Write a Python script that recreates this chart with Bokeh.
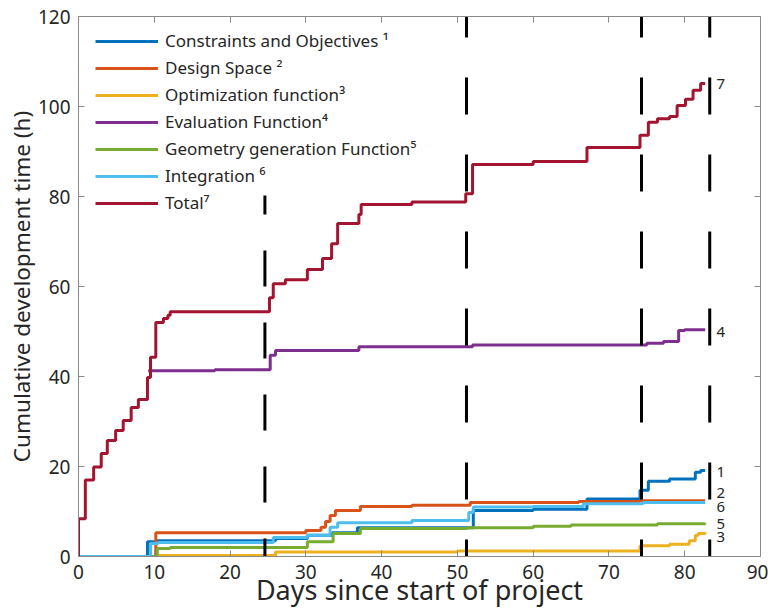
from bokeh.plotting import figure
from bokeh.models import Legend, LegendItem, LinearAxis, FixedTicker, Range1d
from bokeh.embed import file_html
from bokeh.resources import INLINE
from bokeh.core.properties import value

FONT = "Noto Sans"

# ---------------- data (step breakpoints: day, cumulative hours) ----------------
con_d = [0, 9.1, 10.2, 26.0, 30.2, 33.5, 36.8, 52.1, 60.0, 67.1, 74.1, 75.2, 78.0, 81.4, 82.1, 82.7]
con_h = [0, 3.3, 3.5, 4.0, 4.7, 5.3, 6.4, 10.2, 10.5, 12.8, 14.7, 16.7, 17.2, 18.7, 19.1, 19.1]

des_d = [0, 10.2, 30.0, 32.0, 32.6, 33.2, 33.9, 37.2, 44.0, 51.7, 66.0, 74.0, 82.7]
des_h = [0, 5.3, 5.8, 6.5, 7.8, 9.1, 10.2, 11.1, 11.4, 12.0, 12.2, 12.4, 12.4]

opt_d = [0, 10.4, 26.0, 50.0, 74.1, 78.0, 80.6, 81.4, 81.8, 82.7]
opt_h = [0, 0.2, 1.0, 1.2, 2.4, 2.7, 3.5, 4.7, 5.1, 5.4]

eva_d = [9.2, 18.0, 25.3, 26.0, 37.0, 52.0, 75.0, 77.2, 79.2, 80.0, 82.7]
eva_h = [41.3, 41.5, 44.7, 45.8, 46.6, 47.0, 47.4, 47.8, 50.2, 50.4, 50.4]

geo_d = [0, 10.4, 12.1, 30.2, 33.6, 37.2, 51.3, 60.0, 65.0, 76.4, 82.7]
geo_h = [0, 1.8, 2.0, 3.3, 5.1, 6.2, 6.4, 6.7, 7.0, 7.3, 7.4]

int_d = [0, 9.5, 10.5, 25.7, 30.2, 33.2, 34.2, 44.0, 51.5, 52.1, 60.0, 66.6, 74.5, 82.7]
int_h = [0, 2.9, 3.1, 4.2, 4.7, 6.5, 7.5, 8.0, 9.8, 11.0, 11.1, 11.7, 12.0, 12.0]

tot_d = [0, 0, 0.9, 2.0, 3.0, 3.8, 4.9, 5.9, 6.95, 7.9, 9.1, 9.5, 10.2, 11.2, 11.8, 12.1,
         25.2, 25.7, 27.3, 30.2, 32.2, 33.4, 34.2, 37.0, 37.3, 44.0, 51.1, 52.0, 60.0,
         67.1, 74.1, 75.2, 76.4, 78.0, 79.0, 80.1, 81.1, 82.1, 82.7]
tot_h = [0, 8.4, 17.0, 19.9, 22.9, 25.8, 28.0, 30.2, 33.1, 34.9, 39.8, 44.3, 52.0, 52.9, 53.6, 54.4,
         57.5, 60.6, 61.5, 63.8, 66.2, 69.5, 74.0, 76.0, 78.2, 78.8, 80.6, 87.1, 87.8,
         90.9, 93.6, 96.5, 97.3, 97.8, 100.2, 101.6, 103.6, 105.1, 105.1]

names = ["Constraints and Objectives \u00b9", "Design Space \u00b2", "Optimization function\u00b3",
         "Evaluation Function\u2074", "Geometry generation Function\u2075", "Integration \u2076",
         "Total\u2077"]
colors = ["#0072BD", "#D95319", "#EDB120", "#7E2F8E", "#77AC30", "#4DBEEE", "#A2142F"]
series = [(con_d, con_h), (des_d, des_h), (opt_d, opt_h), (eva_d, eva_h),
          (geo_d, geo_h), (int_d, int_h), (tot_d, tot_h)]

# milestone lines (day, top hour)
mile_d = [24.6, 51.2, 74.3, 83.3]
mile_top = [80.2, 120, 120, 120]

# end labels
end_text = ["1", "2", "3", "4", "5", "6", "7"]
end_y = [18.7, 14.2, 4.4, 50.0, 7.3, 10.9, 105.1]
end_x = 84.2

x_ticks = [0, 10, 20, 30, 40, 50, 60, 70, 80, 90]
y_ticks = [0, 20, 40, 60, 80, 100, 120]

x_title = "Days since start of project"
y_title = "Cumulative development time (h)"

# ---------------- figure ----------------
W, H = 768, 610
ML, MR, MT, MB = 78, 8, 16, 54
p = figure(width=W, height=H, x_range=Range1d(0, 90), y_range=Range1d(0, 120),
           output_backend="svg", toolbar_location=None,
           min_border_left=ML, min_border_right=MR, min_border_top=MT, min_border_bottom=MB)
p.grid.visible = False
p.outline_line_color = None
p.background_fill_color = "white"

AX = "#8a8a8a"
TXT = "#262626"

def style_axis(ax, ticks, labels=True):
    ax.ticker = FixedTicker(ticks=ticks)
    ax.axis_line_color = AX
    ax.axis_line_width = 1
    ax.major_tick_line_color = AX
    ax.major_tick_in = 6
    ax.major_tick_out = 0
    ax.minor_tick_line_color = None
    if labels:
        ax.major_label_text_font = FONT
        ax.major_label_text_font_size = "19px"
        ax.major_label_text_color = TXT
    else:
        ax.major_label_text_font_size = "0px"
        ax.major_label_overrides = {t: "" for t in ticks}
        ax.major_label_standoff = 0

style_axis(p.xaxis[0], x_ticks)
style_axis(p.yaxis[0], y_ticks)
p.xaxis[0].major_label_standoff = 8
p.yaxis[0].major_label_standoff = 8
p.xaxis[0].axis_label = x_title
p.yaxis[0].axis_label = y_title
for ax in (p.xaxis[0], p.yaxis[0]):
    ax.axis_label_text_font = FONT
    ax.axis_label_text_font_style = "normal"
    ax.axis_label_text_color = TXT
p.xaxis[0].axis_label_text_font_size = "27px"
p.yaxis[0].axis_label_text_font_size = "22.5px"
p.xaxis[0].axis_label_standoff = -11
p.yaxis[0].axis_label_standoff = -2

top_ax = LinearAxis()
style_axis(top_ax, x_ticks, labels=False)
p.add_layout(top_ax, "above")
right_ax = LinearAxis()
style_axis(right_ax, y_ticks, labels=False)
p.add_layout(right_ax, "right")

renderers = []
for (d, h), c in zip(series, colors):
    r = p.step(x=d, y=h, mode="after", line_color=c, line_width=3)
    renderers.append(r)

# milestone dashed lines
for i, (d, top) in enumerate(zip(mile_d, mile_top)):
    if i == 0:
        p.line(x=[d, d], y=[top, 0], line_color="black", line_width=3,
               line_dash="36 36", line_dash_offset=17)
    else:
        p.line(x=[d, d], y=[top, 0], line_color="black", line_width=3,
               line_dash="37 40", line_dash_offset=16)

p.text(x=[end_x] * len(end_text), y=end_y, text=end_text, text_font=value(FONT),
       text_font_size="15px", text_color=TXT, text_baseline="middle", text_align="left")

legend = Legend(items=[LegendItem(label=n, renderers=[r]) for n, r in zip(names, renderers)],
                location=(17, 342))
legend.border_line_color = None
legend.background_fill_alpha = 0
legend.label_text_font = FONT
legend.label_text_font_size = "17px"
legend.label_text_color = TXT
legend.glyph_width = 63
legend.glyph_height = 20
legend.label_height = 20
legend.spacing = 4
legend.label_standoff = 7
legend.margin = 0
legend.padding = 0
p.add_layout(legend)

open("out.html", "w").write(file_html(p, INLINE))
